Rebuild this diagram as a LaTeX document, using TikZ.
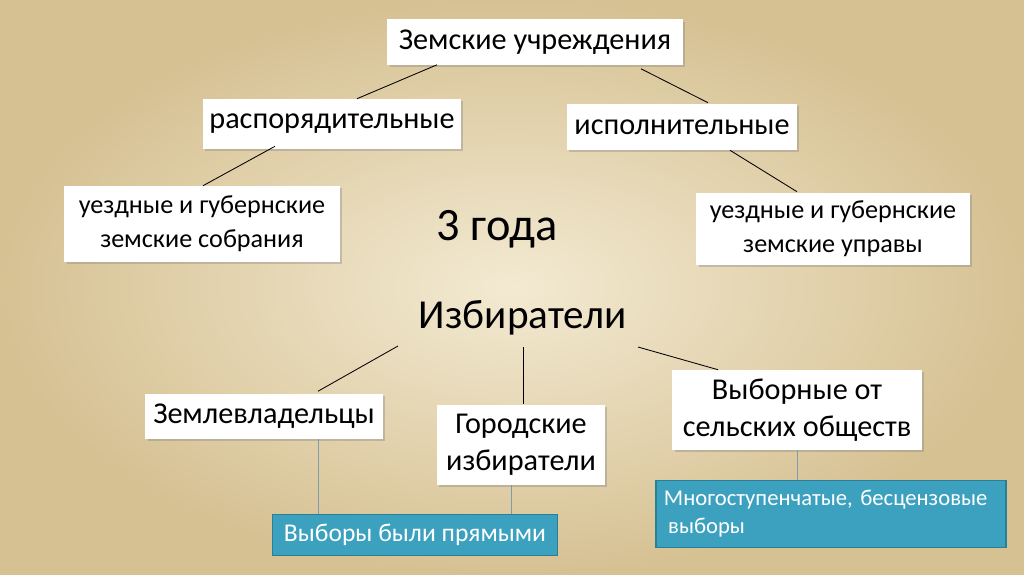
\documentclass[tikz,border=0pt]{standalone}
\usepackage{fontspec}
\setmainfont{Carlito}
\usetikzlibrary{shadows,calc}
\definecolor{parchment}{HTML}{D6C193}
\definecolor{parchlight}{HTML}{F3EAD2}
\definecolor{tealbox}{HTML}{3BA1BE}
\definecolor{tealedge}{HTML}{2A7E96}
\definecolor{stemline}{HTML}{7F9BB0}
\begin{document}
\frenchspacing
\begin{tikzpicture}[x=0.025cm, y=-0.025cm,
    card/.style={fill=white, align=center, inner sep=0pt, font=\fontsize{21.5}{26}\selectfont,
      drop shadow={opacity=0.35, shadow xshift=1.5pt, shadow yshift=-1.5pt}},
    note/.style={fill=tealbox, draw=tealedge, line width=1.2pt, text=white, inner sep=0pt},
    link/.style={black, line width=0.6pt},
    stem/.style={stemline, line width=0.5pt}]
  % Parchment background
  \useasboundingbox (0,0) rectangle (1024,574);
  \shade[inner color=parchlight, outer color=parchment] (0,0) rectangle (1024,574);

  % Zemstvo institutions
  \node[card, minimum width=7.375cm, minimum height=1.125cm] (zem) at (535,42) {Земские учреждения};
  \node[card, minimum width=6.45cm, minimum height=1.25cm] (rasp) at (332,124) {распорядительные};
  \node[card, minimum width=5.75cm, minimum height=1.15cm] (isp) at (682,127) {исполнительные};
  \node[card, minimum width=6.875cm, minimum height=1.9cm, font=\fontsize{18.6}{24}\selectfont] (sob) at (202,224) {уездные и губернские\\земские собрания};
  \node[card, minimum width=6.825cm, minimum height=1.8cm, font=\fontsize{18.6}{24}\selectfont] (upr) at (833,229) {уездные и губернские\\земские управы};
  \node[font=\fontsize{33}{40}\selectfont] (years) at (497,229) {3 года};

  % Electors
  \node[font=\fontsize{29.3}{35}\selectfont] (izb) at (523,318) {Избиратели};
  \node[card, minimum width=5.925cm, minimum height=1.125cm] (zeml) at (264,416) {Землевладельцы};
  \node[card, minimum width=4.2cm, minimum height=2cm] (gor) at (521,445) {Городские\\избиратели};
  \node[card, minimum width=6.225cm, minimum height=2cm] (vyb) at (797,410) {Выборные от\\сельских обществ};
  \node[note, minimum width=7.125cm, minimum height=1.025cm, font=\fontsize{18.2}{22}\selectfont] (pr) at (415,535) {Выборы были прямыми};
  \node[note, minimum height=1.675cm, text width=8.35cm, inner xsep=0.2cm, align=left,
    font=\fontsize{16.1}{20}\selectfont] (mno) at (831,514) {Многоступенчатые, бесцензовые\\\hspace{3pt}выборы};

  % Connectors
  \draw[link] ($(zem.south)+(-98,0)$) -- ($(rasp.north)+(25,0)$);
  \draw[link] ($(zem.south)+(106,4)$) -- ($(isp.north)+(26,-1)$);
  \draw[link] ($(rasp.south)+(-57,-3)$) -- ($(sob.north)+(1,0)$);
  \draw[link] ($(isp.south)+(48,0)$) -- ($(upr.north)+(-36,-1)$);
  \draw[link] ($(izb)+(-125,28)$) -- ($(zeml.north)+(54,-2)$);
  \draw[link] ($(izb)+(0,29)$) -- ($(gor.north)+(2,-1)$);
  \draw[link] ($(izb)+(115,29)$) -- ($(vyb.north)+(-79,0)$);
  \draw[stem] ($(zeml.south)+(54,0)$) -- ($(pr.north)+(-97,0)$);
  \draw[stem] ($(gor.south)+(-10,0)$) -- ($(pr.north)+(96,0)$);
  \draw[stem] (vyb.south) -- ($(mno.north)+(-34,0)$);
\end{tikzpicture}
\end{document}
